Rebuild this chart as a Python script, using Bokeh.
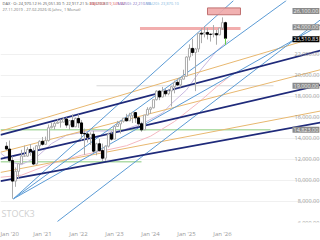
from bokeh.plotting import figure
from bokeh.models import Range1d, FixedTicker, Label
from bokeh.embed import file_html
from bokeh.resources import INLINE
from bokeh.core.properties import value

# monthly candles, month index 0 = Jan 2020
months = list(range(74))
opens = [13249,12981,11890,9936,10862,11587,12311,12313,12945,12761,11556,13291,
         13719,13433,13786,15008,15136,15421,15531,15544,15835,15260,15688,15100,
         15885,15471,14461,14415,14098,14388,12784,13484,12835,12114,13253,14397,
         13924,15128,15365,15629,15922,15664,16148,16447,15947,15387,14810,16215,
         16752,16904,17678,18492,17932,18498,18235,18509,18906,19325,19077,19626,
         19909,21732,22551,22163,22497,23997,23909,24065,23902,23881,23958,23837,
         24490,25000]
highs = [13640,13795,12290,11231,11605,12913,13314,13161,13460,13130,13340,13819,
         14131,14169,15311,15501,15569,15803,15811,15993,15990,15720,16290,15980,
         16285,15736,14925,14590,14575,14716,13575,13948,13500,13338,14543,14675,
         15269,15659,15706,15925,16332,16427,16528,16500,16045,15575,16220,16962,
         17003,17488,18567,18567,18892,18690,18700,18970,19491,19675,19675,20523,
         21800,22935,23476,22600,24000,24479,24639,24500,23950,24771,24300,24500,
         25500,25100]
lows = [12948,11725,8256,9393,10160,11560,12253,12253,12340,11450,11510,12960,
        13310,13390,13700,14950,14817,15400,15020,15520,15000,14820,15100,15060,
        15000,13807,12439,13600,13380,12618,12390,12740,11862,11865,13130,13791,
        13990,15120,14458,15500,15630,15730,15455,15470,15139,14630,14790,16170,
        16345,16850,17600,17630,17900,17990,18100,17024,18280,19000,18850,19600,
        19850,21400,21850,18490,22200,23050,23600,23400,23200,23600,22900,23800,
        24300,22900]
closes = [12981,11890,9936,10862,11587,12311,12313,12945,12761,11556,13291,13719,
          13433,13786,15008,15136,15421,15531,15544,15835,15260,15688,15100,15885,
          15471,14461,14415,14098,14388,12784,13484,12835,12114,13253,14397,13924,
          15128,15365,15629,15922,15664,16148,16447,15947,15387,14810,16215,16752,
          16904,17678,18492,17932,18498,18235,18509,18906,19325,19077,19626,19909,
          21732,22551,22163,22497,23997,23909,24065,23902,23881,23958,23837,24490,
          25000,23511]

# moving averages
ma1_m = [-2, 2, 5, 10, 15, 20, 28, 38, 46, 52, 55, 60, 65, 70, 74]
ma1_v = [12600, 11700, 11500, 12200, 13500, 14300, 14700, 14700, 15500, 16400, 17300, 18600, 20600, 22300, 23300]
ma2_m = [-2, 5, 15, 25, 32, 40, 48, 56, 64, 70, 74]
ma2_v = [10300, 10500, 11600, 12400, 12800, 13300, 14200, 15600, 17400, 18900, 19800]

# trend lines: start month, start value, end month, end value
navy_m0 = [-2, -2, -2]
navy_v0 = [14320, 12040, 9940]
navy_m1 = [104.7, 104.7, 104.7]
navy_v1 = [22360, 19070, 15510]
orange_m0 = [-2, -2, -2]
orange_v0 = [14690, 12680, 10760]
orange_m1 = [104.7, 104.7, 104.7]
orange_v1 = [23730, 20530, 16600]
blue_m0 = [2.33, 2.33, 2.33, 17]
blue_v0 = [8255, 8255, 8255, 6100]
blue_m1 = [75.7, 93.3, 104.7, 104.7]
blue_v1 = [27105, 27105, 24800, 25280]

# horizontal levels
level_vals = [26100, 24000, 19000, 14823]
level_text = ["26,100.00", "24,000.00", "19,000.00", "14,823.00"]
level_shift = [0, 6, 0, 0]
last_price = 23510.83
last_text = "23,510.83"
green_levels = [14823, 11770]
green_end = [88, 45]

x_ticks = [0, 12, 24, 36, 48, 60, 72]
x_labels = ["Jan '20", "Jan '21", "Jan '22", "Jan '23", "Jan '24", "Jan '25", "Jan '26"]
y_ticks = [6000, 8000, 10000, 12000, 14000, 16000, 18000, 20000, 22000]
y_labels = ["6,000.00", "8,000.00", "10,000.00", "12,000.00", "14,000.00", "16,000.00",
            "18,000.00", "20,000.00", "22,000.00"]

title_parts = ["DAX · O: 24,970.12 H: 25,051.30 T: 22,917.21 S: 23,510.83",
               "MA(200): 19,345.12", "MA(50): 22,210.55", "MA(20): 23,870.10"]
title_colors = ["#555555", "#e06060", "#8070c0", "#88b8e0"]
title_x = [2, 89, 117, 145]
subtitle = "27.11.2019 - 27.02.2026 (6 Jahre, 1 Monat)"

FONT = "Open Sans"

p = figure(width=320, height=240, output_backend="svg", toolbar_location=None,
           x_range=Range1d(-2, 104.67), y_range=Range1d(6000, 27105),
           min_border=0, y_axis_location=None)
p.outline_line_color = None
p.background_fill_color = "white"
p.xgrid.grid_line_color = None
p.ygrid.grid_line_color = "#f0f0f0"
p.ygrid.ticker = FixedTicker(ticks=y_ticks)

p.xaxis.ticker = FixedTicker(ticks=x_ticks)
p.xaxis.major_label_overrides = {t: l for t, l in zip(x_ticks, x_labels)}
p.xaxis.axis_line_color = None
p.xaxis.major_tick_line_color = None
p.xaxis.minor_tick_line_color = None
p.xaxis.major_label_text_font_size = "6px"
p.xaxis.major_label_text_color = "#999999"
p.xaxis.major_label_standoff = 1
p.xaxis.major_label_text_font = FONT

# green levels
for gv, ge in zip(green_levels, green_end):
    p.segment(x0=-2, y0=gv, x1=ge, y1=gv, line_color="#b0dca8", line_width=1.5)
p.segment(x0=30, y0=19000, x1=89, y1=19000, line_color="#d8d8d8", line_width=1)

# MAs
p.line(ma2_m, ma2_v, line_color="#f4b8c0", line_width=1)
p.line(ma1_m, ma1_v, line_color="#c8b8e0", line_width=1)

# trend lines
p.segment(x0=orange_m0, y0=orange_v0, x1=orange_m1, y1=orange_v1, line_color="#e8b870", line_width=1)
p.segment(x0=blue_m0, y0=blue_v0, x1=blue_m1, y1=blue_v1, line_color="#5b9bd5", line_width=1)
p.segment(x0=navy_m0, y0=navy_v0, x1=navy_m1, y1=navy_v1, line_color="#1f2a7a", line_width=1.8)

# resistance zone
p.segment(x0=44.5, y0=24450, x1=78, y1=24450, line_color="#f0a0a0", line_width=3, alpha=0.85)
p.quad(left=67, right=78, bottom=25750, top=26400, fill_color="#f0a8a8", line_color="#c07070", fill_alpha=0.9)

# candles
inc = [i for i in months if closes[i] >= opens[i]]
dec = [i for i in months if closes[i] < opens[i]]
p.segment(x0=months, y0=lows, x1=months, y1=highs, line_color="#aaaaaa", line_width=1)
p.vbar(x=inc, width=0.7, top=[closes[i] for i in inc], bottom=[opens[i] for i in inc],
       fill_color="white", line_color="#aaaaaa", line_width=1)
p.vbar(x=dec, width=0.7, top=[opens[i] for i in dec], bottom=[closes[i] for i in dec],
       fill_color="black", line_color="black", line_width=1)
p.segment(x0=[73], y0=[lows[73]], x1=[73], y1=[closes[73]], line_color="#66cc44", line_width=1)

# right price scale texts
p.text(x=[104.3] * len(y_ticks), y=y_ticks, text=y_labels, text_align="right", text_baseline="middle",
       text_font_size="5.5px", text_color="#999999", text_font=value(FONT))

for v, t, s in zip(level_vals, level_text, level_shift):
    p.add_layout(Label(x=104.3, y=v, y_offset=s, text=t, text_align="right", text_baseline="middle",
                       text_font_size="5.5px", text_color="#eeeeee", background_fill_color="#8a8a8a",
                       text_font=FONT, padding=1))
p.add_layout(Label(x=104.3, y=last_price, y_offset=-1, text=last_text, text_align="right",
                   text_baseline="middle", text_font_size="5.5px", text_color="white",
                   background_fill_color="black", text_font=FONT, padding=1))

for t, c, x in zip(title_parts, title_colors, title_x):
    p.add_layout(Label(x=x, y=219, x_units="screen", y_units="screen", text_baseline="middle",
                       text=t, text_font_size="4px", text_color=c, text_font=FONT))
p.add_layout(Label(x=2, y=213, x_units="screen", y_units="screen", text_baseline="middle",
                   text=subtitle, text_font_size="4px", text_color="#777777", text_font=FONT))
p.add_layout(Label(x=1, y=3, x_units="screen", y_units="screen", text="STOCK3",
                   text_font_size="9px", text_color="#d0d0d0", text_font=FONT))

open("out.html", "w").write(file_html(p, INLINE))
